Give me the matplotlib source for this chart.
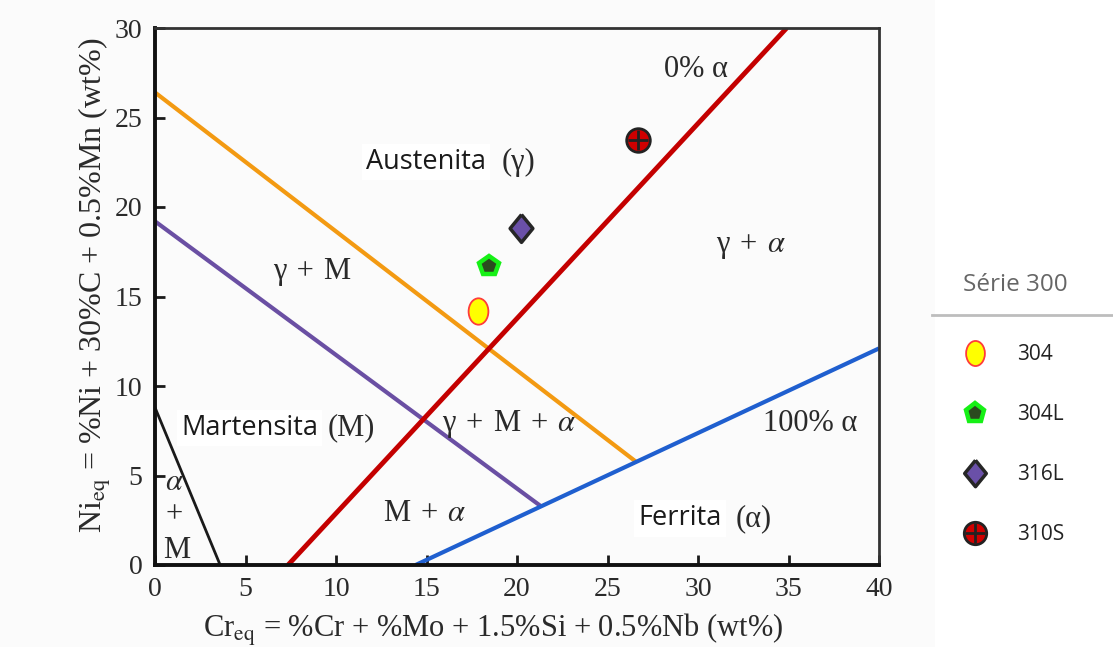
import numpy as np
import matplotlib
matplotlib.use('Agg')
import matplotlib.pyplot as plt
import matplotlib.path as mpath
from matplotlib.lines import Line2D
from matplotlib.patches import Rectangle

plt.rcParams['font.family'] = ['Liberation Serif', 'DejaVu Serif']
plt.rcParams['mathtext.fontset'] = 'stix'

# boundary lines of the Schaeffler diagram (Cr_eq, Ni_eq end points)
orange_x = [0, 26.6]
orange_y = [26.4, 5.75]
purple_x = [0, 21.3]
purple_y = [19.2, 3.3]
red_x = [7.35, 34.9]
red_y = [0, 30]
blue_x = [14.4, 40]
blue_y = [0, 12.1]
black_x = [0, 3.6]
black_y = [8.8, 0]

# 300 series steels
grades = ['304', '304L', '316L', '310S']
cr_eq = [17.85, 18.45, 20.2, 26.7]
ni_eq = [14.2, 16.7, 18.8, 23.75]

xticks = [0, 5, 10, 15, 20, 25, 30, 35, 40]
yticks = [0, 5, 10, 15, 20, 25, 30]

SANS = ['Open Sans', 'DejaVu Sans']
bg = '#fbfbfb'
hs = '\u200a'  # hair space, widens the gaps around "+"

fig = plt.figure(figsize=(11.13, 6.47), dpi=100, facecolor=bg)
fig.add_artist(Rectangle((935 / 1113, 0), 1, 1, transform=fig.transFigure,
                         facecolor='white', edgecolor='none', zorder=0))
ax = fig.add_axes([155 / 1113, 82 / 647, 724 / 1113, 537 / 647])
ax.set_facecolor(bg)

ax.plot(black_x, black_y, color='#1a1a1a', lw=2, solid_capstyle='butt')
ax.plot(orange_x, orange_y, color='#f39a12', lw=3, solid_capstyle='butt')
ax.plot(purple_x, purple_y, color='#6a4fa3', lw=3, solid_capstyle='butt')
ax.plot(red_x, red_y, color='#c40000', lw=3.5, solid_capstyle='butt')
ax.plot(blue_x, blue_y, color='#1f5fcf', lw=3, solid_capstyle='butt')

# custom markers
circ = mpath.Path.unit_circle()
ellipse = mpath.Path(circ.vertices * [0.75, 1.0], circ.codes)
diamond = [(0, 1), (0.82, 0), (0, -1), (-0.82, 0), (0, 1)]

h304, = ax.plot(cr_eq[0], ni_eq[0], ls='none', marker=ellipse, ms=19,
                mfc='#ffff00', mec='#ff3b3b', mew=1.3, zorder=5)
h304l, = ax.plot(cr_eq[1], ni_eq[1], ls='none', marker='p', ms=15,
                 mfc='#2b4a1f', mec='#16f016', mew=3.2, zorder=5)
h316l, = ax.plot(cr_eq[2], ni_eq[2], ls='none', marker=diamond, ms=20,
                 mfc='#6a50a8', mec='#262626', mew=2.5, zorder=5)
h310a, = ax.plot(cr_eq[3], ni_eq[3], ls='none', marker='o', ms=17,
                 mfc='#d00000', mec='#222222', mew=2, zorder=5)
h310b, = ax.plot(cr_eq[3], ni_eq[3], ls='none', marker='+', ms=15,
                 mec='#222222', mew=2, zorder=6)

# region labels
tc = '#2a2a2a'
fs = 22
plus = hs + ' + ' + hs
ax.text(29.9, 27.7, '0% α', fontsize=fs, color=tc, ha='center', va='center')
ax.text(32.9, 17.8, 'γ' + plus + '$\\alpha$', fontsize=fs, color=tc, ha='center', va='center')
ax.text(8.7, 16.4, 'γ' + plus + 'M', fontsize=fs, color=tc, ha='center', va='center')
ax.text(19.6, 7.85, 'γ' + plus + 'M' + plus + '$\\alpha$', fontsize=fs, color=tc,
        ha='center', va='center')
ax.text(36.2, 7.9, '100% α', fontsize=fs, color=tc, ha='center', va='center')
ax.text(14.9, 2.9, 'M' + plus + '$\\alpha$', fontsize=fs, color=tc, ha='center', va='center')
ax.text(1.05, 4.6, '$\\alpha$', fontsize=fs, color=tc, ha='center', va='center')
ax.text(1.05, 2.8, '+', fontsize=fs, color=tc, ha='center', va='center')
ax.text(1.2, 0.8, 'M', fontsize=fs, color=tc, ha='center', va='center')

box = dict(facecolor='white', edgecolor='none', pad=3)
sfs = 19.5
ax.text(18.3, 22.5, 'Austenita', fontsize=sfs, family=SANS, color='#1a1a1a',
        ha='right', va='center', bbox=box)
ax.text(20.1, 22.5, '(γ)', fontsize=fs, color=tc, ha='center', va='center')
ax.text(9.0, 7.65, 'Martensita', fontsize=sfs, family=SANS, color='#1a1a1a',
        ha='right', va='center', bbox=box)
ax.text(10.85, 7.65, '(M)', fontsize=fs, color=tc, ha='center', va='center')
ax.text(31.3, 2.6, 'Ferrita', fontsize=sfs, family=SANS, color='#1a1a1a',
        ha='right', va='center', bbox=box)
ax.text(33.1, 2.6, '(α)', fontsize=fs, color=tc, ha='center', va='center')

ax.set_xlim(0, 40)
ax.set_ylim(0, 30)
ax.set_xticks(xticks)
ax.set_yticks(yticks)
ax.tick_params(direction='in', length=7, width=2, labelsize=20,
               labelcolor='#2a2a2a', color='#1a1a1a', pad=9)
for side in ['left', 'bottom']:
    ax.spines[side].set_linewidth(2.8)
    ax.spines[side].set_color('#111111')
for side in ['top', 'right']:
    ax.spines[side].set_linewidth(2)
    ax.spines[side].set_color('#333333')

ax.set_xlabel('Cr$_{\\mathrm{eq}}$ = %Cr + %Mo + 1.5%Si + 0.5%Nb (wt%)',
              fontsize=22, color='#2a2a2a', va='center')
ax.set_ylabel('Ni$_{\\mathrm{eq}}$ = %Ni + 30%C + 0.5%Mn (wt%)',
              fontsize=23, color='#2a2a2a', va='center')
ax.xaxis.set_label_coords((493 - 155) / 724, -(630 - 565) / 537)
ax.yaxis.set_label_coords((95 - 155) / 724, (565 - 285) / 537)

# legend
leg = fig.legend([h304, h304l, h316l, (h310a, h310b)], grades,
                 title='Série 300', loc='upper left',
                 bbox_to_anchor=(944 / 1113, 1 - 254 / 647),
                 frameon=False, prop={'family': SANS, 'size': 15},
                 title_fontproperties={'family': SANS, 'size': 17.5},
                 labelspacing=1.87, handletextpad=1.4, handlelength=1.2,
                 markerscale=0.95, alignment='left')
leg.get_title().set_color('#666666')
leg._legend_box.sep = 34
for t in leg.get_texts():
    t.set_color('#222222')
fig.add_artist(Line2D([932 / 1113, 1], [1 - 315 / 647] * 2,
                      transform=fig.transFigure, color='#bdbdbd', lw=2))

fig.savefig('out.png', dpi=100, facecolor=fig.get_facecolor())
